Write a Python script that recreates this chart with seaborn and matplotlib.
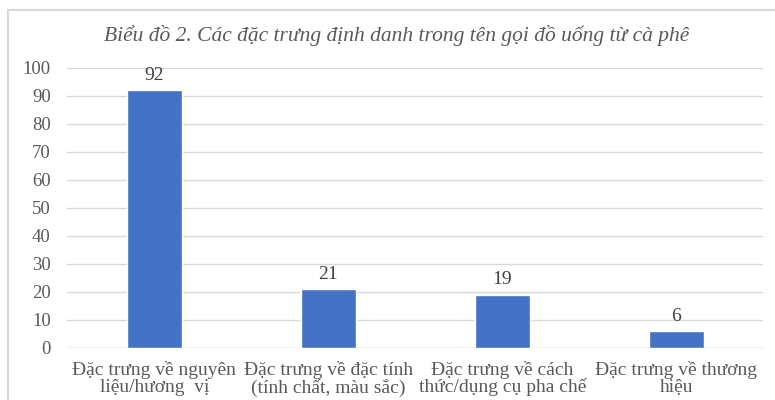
import matplotlib
matplotlib.use("Agg")
import matplotlib.pyplot as plt
import seaborn as sns
import pandas as pd
from matplotlib.patches import Rectangle

# Data
categories = ["Đặc trưng về nguyên\nliệu/hương  vị",
              "Đặc trưng về đặc tính\n(tính chất, màu sắc)",
              "Đặc trưng về cách\nthức/dụng cụ pha chế",
              "Đặc trưng về thương\nhiệu"]
values = [92, 21, 19, 6]
y_ticks = [0, 10, 20, 30, 40, 50, 60, 70, 80, 90, 100]

df = pd.DataFrame({"cat": categories, "val": values})

sns.set_style("white")
plt.rcParams["font.family"] = ["Liberation Serif", "DejaVu Serif"]
txt = "#595959"

fig = plt.figure(figsize=(7.75, 4), dpi=100)
ax = fig.add_axes([0.087, 0.13, 0.898, 0.70])

sns.barplot(data=df, x="cat", y="val", color="#4472C4", width=0.32,
            saturation=1, ax=ax, zorder=3)

# value labels above bars
for i, v in enumerate(values):
    ax.text(i, v + 2.3, str(v), ha="center", va="bottom", fontsize=14, color="#404040")

ax.set_ylim(0, 100)
ax.set_xlim(-0.5, 3.5)
ax.set_yticks(y_ticks)
ax.yaxis.grid(True, color="#d9d9d9", linewidth=1, zorder=0)
for s in ax.spines.values():
    s.set_visible(False)
ax.axhline(0, color="#d9d9d9", linewidth=1, zorder=1)
ax.set_xlabel("")
ax.set_ylabel("")
ax.tick_params(axis="y", length=0, labelsize=13.5, colors=txt, pad=12)
ax.tick_params(axis="x", length=0, labelsize=14, colors=txt, pad=9.5)
for lab in ax.get_xticklabels():
    lab.set_linespacing(0.95)

fig.text(0.512, 0.912, "Biểu đồ 2. Các đặc trưng định danh trong tên gọi đồ uống từ cà phê",
         ha="center", va="center", fontsize=15.5, style="italic", color=txt)

# outer frame
fig.patches.append(Rectangle((0.0105, -0.1), 1.1, 1.075, transform=fig.transFigure,
                             fill=False, edgecolor="#d9d9d9", linewidth=1.5))

fig.savefig("out.png", dpi=100)
